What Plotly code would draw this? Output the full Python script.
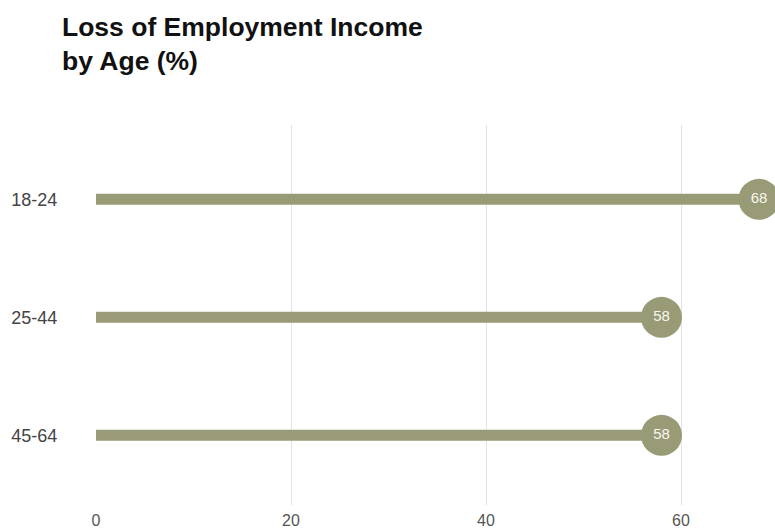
import plotly.graph_objects as go

# Share of people reporting loss of employment income, by age group
ages = ["18-24", "25-44", "45-64"]
loss_pct = [68, 58, 58]
x_ticks = [0, 20, 40, 60]

stem_color = "#999b77"
base_font = "Liberation Sans, Arial, sans-serif"

fig = go.Figure()

# Stems: one thick line from zero to the value for each age group
for age, val in zip(ages, loss_pct):
    fig.add_trace(go.Scatter(
        x=[0, val], y=[age, age], mode="lines",
        line=dict(color=stem_color, width=11),
        hoverinfo="skip", showlegend=False, cliponaxis=False,
    ))

# Heads: circles carrying the value labels
fig.add_trace(go.Scatter(
    x=loss_pct, y=ages, mode="markers+text",
    marker=dict(color=stem_color, size=41, line=dict(width=0)),
    text=[str(v) for v in loss_pct], textposition="middle center",
    textfont=dict(family=base_font, size=15, color="#f6f6f0"),
    showlegend=False, cliponaxis=False,
))

fig.update_layout(
    width=775, height=529,
    margin=dict(l=96, r=0, t=125, b=24),
    paper_bgcolor="white", plot_bgcolor="white",
    title=dict(
        text="<b>Loss of Employment Income<br>by Age (%)</b>",
        font=dict(family=base_font, size=26.5, color="#111111"),
        x=62 / 775, xanchor="left", xref="container",
        y=1 - 36 / 529, yanchor="top", yref="container",
    ),
    xaxis=dict(
        range=[0, 69.64], tickvals=x_ticks, ticktext=[str(t) for t in x_ticks],
        showgrid=True, gridcolor="#e3e3e3", gridwidth=1,
        zeroline=False, showline=False, automargin=False,
        ticks="outside", ticklen=1, tickcolor="rgba(0,0,0,0)",
        tickfont=dict(family=base_font, size=16, color="#555555"),
    ),
    yaxis=dict(
        type="category", categoryorder="array", categoryarray=ages,
        range=[2.59, -0.63], automargin=False,
        showgrid=False, zeroline=False, showline=False,
        ticks="outside", ticklen=34, tickcolor="rgba(0,0,0,0)",
        tickfont=dict(family=base_font, size=18, color="#444444"),
    ),
)

fig.write_html("out.html")
